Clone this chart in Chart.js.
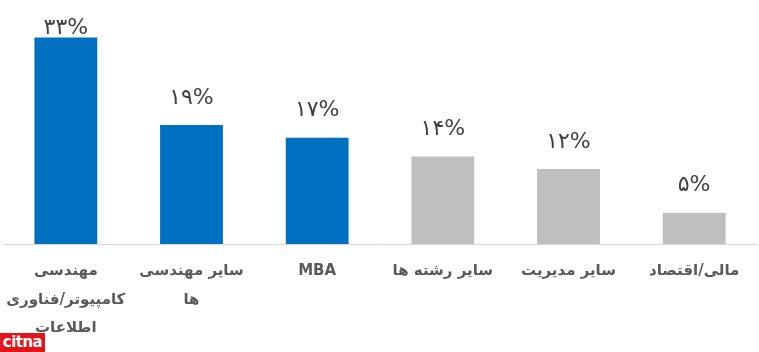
<!DOCTYPE html>
<html>
<head>
<meta charset="utf-8">
<script src="https://cdn.jsdelivr.net/npm/chart.js@4"></script>
<style>
  html, body { margin: 0; padding: 0; background: #fff; }
  #wrap { position: relative; width: 759px; height: 352px; }
  #logo {
    position: absolute; left: 0; top: 333px; width: 45px; height: 19px;
    background: #e4141b; color: #fff; font: bold 15px "DejaVu Sans", sans-serif;
    line-height: 19px; text-align: center; letter-spacing: -0.5px;
  }
</style>
</head>
<body>
<div id="wrap">
  <canvas id="chart" width="759" height="352"></canvas>
  <div id="logo">citna</div>
</div>
<script>
// chart data
const categories = [
    ['مهندسی', 'کامپیوتر/فناوری', 'اطلاعات'],
    ['سایر مهندسی', 'ها'],
    'MBA',
    'سایر رشته ها',
    'سایر مدیریت',
    'مالی/اقتصاد'
];
const shares = [33, 19, 17, 14, 12, 5];
const shareLabels = ['۳۳%', '۱۹%', '۱۷%', '۱۴%', '۱۲%', '۵%'];
const barColors = ['#0070c0', '#0070c0', '#0070c0', '#bfbfbf', '#bfbfbf', '#bfbfbf'];

const FONT = '"DejaVu Sans", sans-serif';

// value labels above bars (kept inside the canvas like Excel does)
const valueLabels = {
    id: 'valueLabels',
    afterDatasetsDraw(chart) {
        const ctx = chart.ctx;
        const meta = chart.getDatasetMeta(0);
        ctx.save();
        ctx.font = '22px ' + FONT;
        ctx.fillStyle = '#404040';
        ctx.textAlign = 'center';
        ctx.textBaseline = 'bottom';
        meta.data.forEach((bar, i) => {
            let y = bar.y - 16;
            if (y < 39) y = 39;
            ctx.fillText(shareLabels[i], bar.x, y);
        });
        ctx.restore();
    }
};

const ctx = document.getElementById('chart').getContext('2d');
new Chart(ctx, {
    type: 'bar',
    data: {
        labels: categories,
        datasets: [{
            data: shares,
            backgroundColor: barColors,
            barPercentage: 1,
            categoryPercentage: 0.5
        }]
    },
    options: {
        responsive: false,
        animation: false,
        layout: { padding: { top: 25, left: 3, right: 2, bottom: 0 } },
        plugins: {
            legend: { display: false },
            tooltip: { enabled: false }
        },
        scales: {
            x: {
                grid: { display: false, drawTicks: false },
                border: { display: true, color: '#d9d9d9', width: 1 },
                ticks: {
                    color: '#595959',
                    font: { family: FONT, size: 15, weight: 'bold', lineHeight: 1.9 },
                    padding: 13,
                    maxRotation: 0,
                    autoSkip: false
                },
                afterFit(scale) {
                    scale.height = 108;
                    scale.paddingLeft = 0;
                    scale.paddingRight = 0;
                }
            },
            y: {
                display: false,
                min: 0,
                max: 35
            }
        }
    },
    plugins: [valueLabels]
});
</script>
</body>
</html>
